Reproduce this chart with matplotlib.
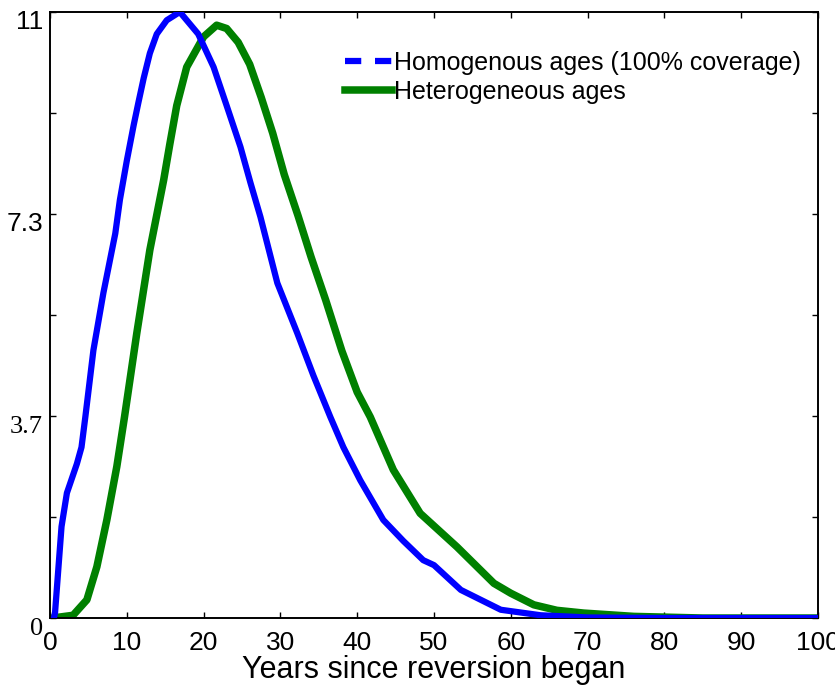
import numpy as np
import matplotlib
matplotlib.use("Agg")
import matplotlib.pyplot as plt
import matplotlib.transforms as mtransforms
from matplotlib.lines import Line2D

# values
homog_years = [0.5, 0.65, 1.5, 2.2, 3.5, 4.1, 4.6, 5.65, 6.95, 8.5, 9.1, 10.0, 10.9,
               11.5, 12.2, 13.0, 13.9, 15.2, 16.9, 19.3, 21.3, 23.0, 24.8, 26.1,
               27.4, 29.6, 32.2, 34.3, 36.5, 38.2, 40.4, 43.4, 46.0, 48.6, 50.0,
               53.5, 58.7, 63.9, 70.0, 80.0, 90.0, 100.0]
homog_vals = [0.0, 0.09, 1.66, 2.27, 2.8, 3.1, 3.65, 4.86, 5.9, 6.98, 7.59, 8.3, 8.95,
              9.35, 9.8, 10.25, 10.6, 10.85, 11.0, 10.6, 10.0, 9.3, 8.55, 7.9,
              7.28, 6.08, 5.17, 4.4, 3.65, 3.1, 2.5, 1.78, 1.4, 1.05, 0.96,
              0.51, 0.15, 0.05, 0.01, 0.0, 0.0, 0.0]

hetero_years = [0.3, 3.0, 4.8, 6.1, 7.4, 8.7, 9.7, 11.3, 13.0, 14.8, 15.6, 16.5,
                17.8, 20.0, 21.7, 23.0, 24.5, 26.0, 27.5, 29.0, 30.5, 32.3, 34.0,
                35.9, 38.0, 40.0, 41.7, 44.7, 48.2, 53.0, 57.8, 60.0, 63.0, 66.0,
                69.5, 76.0, 85.0, 100.0]
hetero_vals = [0.0, 0.05, 0.33, 0.93, 1.78, 2.75, 3.65, 5.17, 6.68, 7.95, 8.6, 9.3,
               10.0, 10.55, 10.76, 10.7, 10.45, 10.05, 9.45, 8.8, 8.05, 7.3, 6.55,
               5.77, 4.85, 4.1, 3.65, 2.69, 1.9, 1.29, 0.63, 0.45, 0.24, 0.14,
               0.09, 0.03, 0.0, 0.0]

x_ticks = [0, 10, 20, 30, 40, 50, 60, 70, 80, 90, 100]
y_ticks = [0, 11 / 6, 11 / 3, 5.5, 22 / 3, 55 / 6, 11]
y_labels = ["0", "", "3.7", "", "7.3", "", "11"]
serif_labels = ["0", "3.7"]

fig = plt.figure(figsize=(8.35, 6.92), dpi=100)
ax = fig.add_axes([0.0599, 0.1069, 0.9197, 0.8758])

ax.plot(homog_years, homog_vals, color=(0, 0, 1), lw=4.5,
        solid_capstyle="round", solid_joinstyle="round", zorder=3)
ax.plot(hetero_years, hetero_vals, color=(0, 0.5, 0), lw=5.4,
        solid_capstyle="round", solid_joinstyle="round", zorder=2)

ax.set_xlim(0, 100)
ax.set_ylim(0, 11)
ax.set_xticks(x_ticks)
ax.set_xticklabels([str(t) for t in x_ticks], fontsize=19, family="Liberation Sans")
ax.set_yticks(y_ticks)
ax.set_yticklabels(y_labels, fontsize=19)

ax.tick_params(direction="in", length=4, width=1, top=True, right=True, pad=5)
ax.tick_params(axis="x", pad=9)

# y labels sit a little below their ticks in the original
shift = mtransforms.ScaledTranslation(0, -8 / 100, fig.dpi_scale_trans)
for tick, txt in zip(ax.yaxis.get_major_ticks(), y_labels):
    tick.label1.set_family("Liberation Serif" if txt in serif_labels else "Liberation Sans")
    tick.label1.set_transform(tick.label1.get_transform() + shift)

for sp in ax.spines.values():
    sp.set_linewidth(1.4)

ax.set_xlabel("Years since reversion began", fontsize=22, family="Liberation Sans",
              labelpad=0)

handles = [Line2D([], [], color=(0, 0, 1), lw=4.5, dashes=(2.6, 2.2)),
           Line2D([], [], color=(0, 0.5, 0), lw=5.4)]
ax.legend(handles, ["Homogenous ages (100% coverage)", "Heterogeneous ages"],
          loc="upper left", bbox_to_anchor=(0.384, 0.936), frameon=False,
          borderpad=0, borderaxespad=0, handlelength=1.9, handletextpad=0.05,
          labelspacing=0.2, prop={"family": "Liberation Sans", "size": 18})

fig.savefig("out.png", dpi=100)
